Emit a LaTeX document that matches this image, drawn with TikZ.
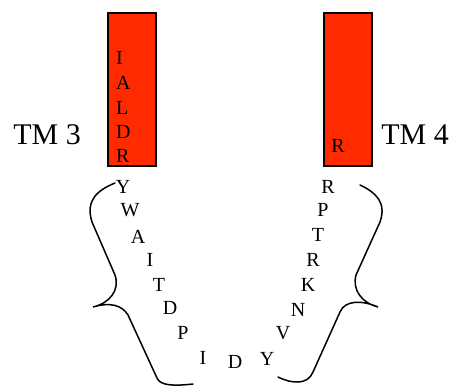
\documentclass[tikz,border=0pt]{standalone}
\usepackage{fontspec}
\setmainfont{Liberation Serif}
\definecolor{HelixRed}{RGB}{255,42,0}

\begin{document}
\begin{tikzpicture}[x=1pt,y=-1pt,
  helix/.style={draw=black,line width=1.5pt,fill=HelixRed,minimum width=48pt,minimum height=153pt,inner sep=0pt},
  res/.style={inner sep=0pt,font=\fontsize{20}{20}\selectfont},
  tm/.style={inner sep=0pt,font=\fontsize{30}{30}\selectfont},
  brace/.style={line width=1.5pt,line cap=round}]
\useasboundingbox (0,0) rectangle (455,387);
\node[helix](h3) at (132,89.5) {};
\node[helix](h4) at (348,89.5) {};
\node[tm](tm3) at (47,135) {TM 3};
\node[tm](tm4) at (415,135) {TM 4};
\foreach \y/\1 [count=\i] in %
{58/I,83/A,108/L,132/D,156/R} {
   \node[res,anchor=west](a\i) at (116,\y) {\1};
}
\node[res](b1) at (338,146) {R};
% loop from TM 3 down and up to TM 4
\foreach \x/\y/\1 [count=\i] in %
{123/187/Y,130/210/W,138/237/A,150/260/I,159/285/T,170/308/D,183/333/P,%
203/358/I,235/362/D,267/359/Y,283/333/V,298/310/N,308/285/K,313/260/R,%
318/235/T,323/210/P,328/187/R} {
   \node[res](c\i) at (\x,\y) {\1};
}
\draw[brace] (115,183) .. controls (98,190) and (85,200) .. (92,222) -- (115,275)
   .. controls (120,290) and (110,303) .. (93,307)
   .. controls (110,302) and (122,305) .. (128,315) -- (157,378)
   .. controls (160,386) and (175,386) .. (193,384);
\draw[brace] (360,185) .. controls (375,192) and (387,202) .. (380,222) -- (356,275)
   .. controls (352,290) and (362,303) .. (378,307)
   .. controls (362,300) and (345,300) .. (340,312) -- (313,372)
   .. controls (308,385) and (292,384) .. (278,377);
\end{tikzpicture}
\end{document}
